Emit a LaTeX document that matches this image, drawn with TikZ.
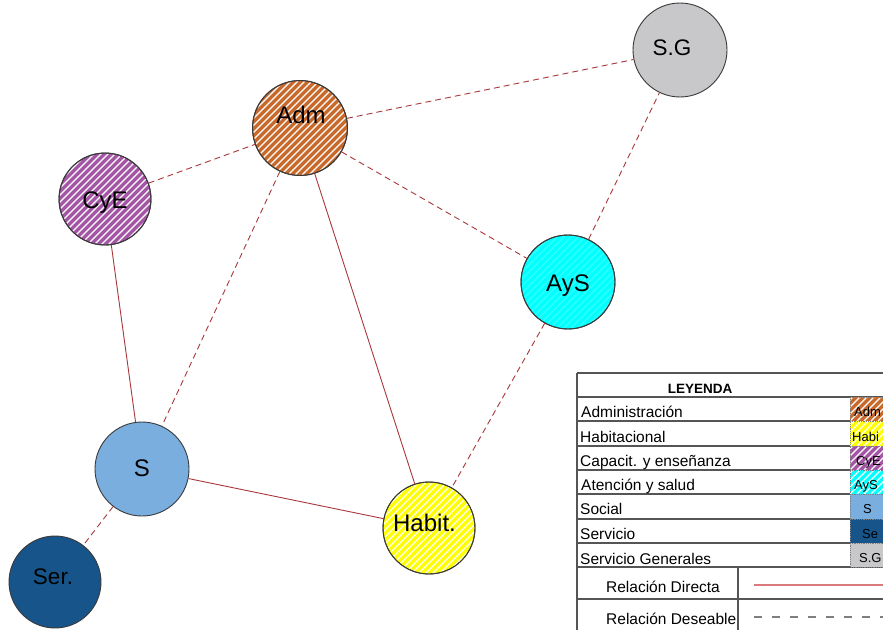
\documentclass[tikz,border=0pt]{standalone}
\usepackage{fontspec}
\setmainfont{Liberation Sans}

\definecolor{admfill}{HTML}{C8692C}
\definecolor{habfill}{HTML}{FFFF00}
\definecolor{cyefill}{HTML}{A455A6}
\definecolor{aysfill}{HTML}{00FFFF}
\definecolor{sfill}{HTML}{7AAEDF}
\definecolor{serfill}{HTML}{17548A}
\definecolor{sgfill}{HTML}{C8C8CA}
\definecolor{circleedge}{HTML}{3A3A3A}
\definecolor{linkred}{HTML}{A8383C}
\definecolor{legendred}{HTML}{D97A7C}
\definecolor{tablegray}{HTML}{555555}
\definecolor{dashgray}{HTML}{7F7F7F}

% white diagonal stripes inside a disk: centre x, centre y, radius, opacity
\newcommand\stripedisk[4]{%
  \begin{scope}
    \clip (#1,#2) circle[radius=#3-0.8];
    \foreach \k in {-98,-91,...,98}
      \draw[white,line width=1.3pt,opacity=#4]
        ({#1+\k-#3},{#2+#3}) -- ({#1+\k+#3},{#2-#3});
  \end{scope}}

% white diagonal stripes inside a rectangle: x1, y1, x2, y2
\newcommand\striperect[4]{%
  \begin{scope}
    \clip (#1,#2) rectangle (#3,#4);
    \foreach \k in {-35,-28,...,70}
      \draw[white,line width=1.1pt]
        ({#1+\k},{#4}) -- ({#1+\k+#4-#2},{#2});
  \end{scope}}

\begin{document}
\begin{tikzpicture}[x=1pt,y=-1pt,
  zone/.style={circle,draw=circleedge,line width=0.9pt,inner sep=0pt},
  zonetext/.style={font=\fontsize{24}{28}\selectfont,inner sep=0pt,anchor=base},
  smallzonetext/.style={font=\fontsize{22.5}{26}\selectfont,inner sep=0pt,anchor=base},
  direct/.style={draw=linkred,line width=0.9pt},
  wish/.style={draw=linkred,line width=0.9pt,dash pattern=on 6pt off 4pt},
  grid/.style={draw=tablegray,line width=1.2pt},
  legtext/.style={font=\fontsize{15.5}{18}\selectfont,inner sep=0pt,anchor=base west},
  swatchtext/.style={font=\fontsize{13}{16}\selectfont,inner sep=0pt,anchor=base west},
  swatch/.style={draw=gray,densely dotted,line width=0.8pt},
]
\useasboundingbox (0,0) rectangle (883,629);
\clip (0,0) rectangle (883,629);
\fill[white] (0,0) rectangle (883,629);

% ---- zones ----
\node[zone,fill=admfill,minimum size=95pt] (adm) at (300,128) {};
\stripedisk{300}{128}{47.5}{1}
\node[zone,fill=sgfill,minimum size=94pt] (sg) at (680,50) {};
\node[zone,fill=cyefill,minimum size=92pt] (cye) at (105,199) {};
\stripedisk{105}{199}{46}{1}
\node[zone,fill=aysfill,minimum size=94pt] (ays) at (568,282) {};
\stripedisk{568}{282}{47}{0.2}
\node[zone,fill=sfill,minimum size=94pt] (s) at (142,469) {};
\node[zone,fill=habfill,minimum size=92pt] (hab) at (429,528) {};
\stripedisk{429}{528}{46}{1}
\node[zone,fill=serfill,minimum size=92pt] (ser) at (55,582) {};

% outlines again over the stripes
\draw[circleedge,line width=0.9pt] (adm.center) circle[radius=47.5];
\draw[circleedge,line width=0.9pt] (cye.center) circle[radius=46];
\draw[circleedge,line width=0.9pt] (ays.center) circle[radius=47];
\draw[circleedge,line width=0.9pt] (hab.center) circle[radius=46];

\node[zonetext] (admtxt) at (301,123.6) {Adm};
\node[smallzonetext] (sgtxt) at (672,55) {S.G};
\node[zonetext] (cyetxt) at (105,208.6) {CyE};
\node[zonetext] (aystxt) at (568,291) {AyS};
\node[zonetext] (stxt) at (142,476) {S};
\node[zonetext] (habtxt) at (424.5,531.6) {Habit.};
\node[smallzonetext] (sertxt) at (53,584) {Ser.};

% ---- relations ----
\draw[direct] (cye) -- (s);
\draw[direct] (adm) -- (hab);
\draw[direct] (s) -- (hab);
\draw[wish] (cye) -- (adm);
\draw[wish] (adm) -- (sg);
\draw[wish] (adm) -- (ays);
\draw[wish] (adm) -- (s);
\draw[wish] (ays) -- (sg);
\draw[wish] (ays) -- (hab);
\draw[wish] (s) -- (ser);

% ---- legend table ----
\draw[grid] (577,373) -- (890,373);
\draw[grid] (577,373) -- (577,632);
\draw[grid] (577,397) -- (890,397);
\foreach \yy in {421,446,470,494,519,543}
  \draw[grid] (577,\yy) -- (850,\yy);
\draw[grid] (577,567) -- (890,567);
\draw[grid] (577,599) -- (890,599);
\draw[grid] (738,567) -- (738,632);

% colour swatches
\fill[admfill] (850,397) rectangle (890,421);
\striperect{850}{397}{890}{421}
\fill[habfill] (850,421) rectangle (890,446);
\striperect{850}{421}{890}{446}
\fill[cyefill] (850,446) rectangle (890,470);
\striperect{850}{446}{890}{470}
\fill[aysfill] (850,470) rectangle (890,494);
\striperect{850}{470}{890}{494}
\fill[sfill] (850,494) rectangle (890,519);
\fill[serfill] (850,519) rectangle (890,543);
\fill[sgfill] (850,543) rectangle (890,567);
\draw[swatch] (850,397) rectangle (890,567);
\foreach \yy in {421,446,470,494,519,543}
  \draw[swatch] (850,\yy) -- (890,\yy);

\node[swatchtext] (swadm) at (854,416) {Adm};
\node[swatchtext] (swhab) at (852,441) {Habi};
\node[swatchtext] (swcye) at (856,465) {CyE};
\node[swatchtext] (sways) at (854,489) {AyS};
\node[swatchtext] (sws) at (863,513) {S};
\node[swatchtext] (swser) at (862,538) {Se};
\node[swatchtext] (swsg) at (859,562) {S.G};

\node[font=\bfseries\fontsize{13.5}{16}\selectfont,inner sep=0pt,anchor=base] (leyenda) at (700,393) {LEYENDA};
\node[legtext] (l1) at (581,417) {Administración};
\node[legtext] (l2) at (580,442) {Habitacional};
\node[legtext] (l3) at (580,466) {Capacit. y enseñanza};
\node[legtext] (l4) at (581,490) {Atención y salud};
\node[legtext] (l5) at (580,514.5) {Social};
\node[legtext] (l6) at (580,539) {Servicio};
\node[legtext] (l7) at (580,564) {Servicio Generales};
\node[font=\fontsize{15.5}{18}\selectfont,inner sep=0pt,anchor=base] (ldir) at (663,592) {Relación Directa};
\node[legtext] (ldes) at (606,624.5) {Relación Deseable};

\coordinate (dirA) at (754,585);
\coordinate (dirB) at (890,585);
\coordinate (desA) at (754,617);
\coordinate (desB) at (890,617);
\draw[legendred,line width=1.2pt] (dirA) -- (dirB);
\draw[dashgray,line width=1.2pt,dash pattern=on 8pt off 10pt] (desA) -- (desB);
\end{tikzpicture}
\end{document}
